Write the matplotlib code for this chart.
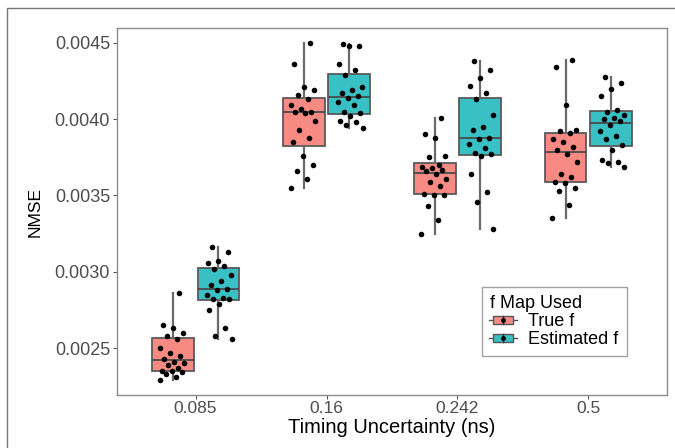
import matplotlib
matplotlib.use("Agg")
import matplotlib.pyplot as plt
from matplotlib.patches import Rectangle
from matplotlib.lines import Line2D
from matplotlib.legend_handler import HandlerBase
import numpy as np

plt.rcParams['font.family'] = ['Liberation Sans', 'DejaVu Sans']

categories = ["0.085", "0.16", "0.242", "0.5"]
series_names = ["True f", "Estimated f"]
fill_colors = ["#F78B83", "#38C0C5"]

# NMSE values per run
true_085 = [0.00229, 0.00231, 0.00233, 0.00234, 0.00235, 0.00235, 0.00237, 0.00239, 0.00240, 0.00241,
            0.00243, 0.00245, 0.00247, 0.00250, 0.00256, 0.00258, 0.00260, 0.00263, 0.00265, 0.00286]
est_085 = [0.00256, 0.00258, 0.00263, 0.00275, 0.00279, 0.00282, 0.00282, 0.00283, 0.00285, 0.00288,
           0.00289, 0.00291, 0.00294, 0.00298, 0.00302, 0.00304, 0.00306, 0.00307, 0.00313, 0.00316]
true_016 = [0.00355, 0.00361, 0.00366, 0.00370, 0.00376, 0.00385, 0.00388, 0.00393, 0.00399, 0.00404,
            0.00405, 0.00405, 0.00407, 0.00409, 0.00413, 0.00416, 0.00419, 0.00421, 0.00436, 0.00450]
est_016 = [0.00394, 0.00396, 0.00398, 0.00399, 0.00402, 0.00404, 0.00405, 0.00409, 0.00411, 0.00414,
           0.00415, 0.00417, 0.00419, 0.00421, 0.00429, 0.00432, 0.00436, 0.00448, 0.00448, 0.00449]
true_0242 = [0.00325, 0.00334, 0.00343, 0.00350, 0.00350, 0.00351, 0.00356, 0.00359, 0.00361, 0.00364,
             0.00366, 0.00367, 0.00368, 0.00369, 0.00370, 0.00375, 0.00376, 0.00388, 0.00390, 0.00401]
est_0242 = [0.00328, 0.00346, 0.00352, 0.00364, 0.00376, 0.00377, 0.00378, 0.00381, 0.00384, 0.00387,
            0.00388, 0.00393, 0.00395, 0.00403, 0.00413, 0.00417, 0.00422, 0.00427, 0.00432, 0.00438]
true_05 = [0.00335, 0.00344, 0.00353, 0.00355, 0.00358, 0.00359, 0.00362, 0.00364, 0.00372, 0.00377,
           0.00380, 0.00382, 0.00385, 0.00387, 0.00391, 0.00392, 0.00393, 0.00409, 0.00434, 0.00439]
est_05 = [0.00369, 0.00371, 0.00372, 0.00373, 0.00380, 0.00383, 0.00387, 0.00389, 0.00392, 0.00396,
          0.00399, 0.00400, 0.00401, 0.00403, 0.00405, 0.00406, 0.00415, 0.00420, 0.00424, 0.00428]

true_runs = [true_085, true_016, true_0242, true_05]
est_runs = [est_085, est_016, est_0242, est_05]
yticks = [0.0025, 0.0030, 0.0035, 0.0040, 0.0045]


class BoxKey(HandlerBase):
    def __init__(self, color):
        super().__init__()
        self.color = color

    def create_artists(self, legend, orig, x0, y0, w, h, fontsize, trans):
        cy = y0 + h / 2
        r = Rectangle((x0 + 2, y0 + h * 0.2), w - 4, h * 0.6, facecolor=self.color,
                      edgecolor="#555555", lw=1, transform=trans)
        med = Line2D([x0 + w / 2] * 2, [y0 + h * 0.2, y0 + h * 0.8], color="#333333", lw=1, transform=trans)
        wh = Line2D([x0 - 1, x0 + w + 1], [cy, cy], color="#555555", lw=1, transform=trans)
        dot = Line2D([x0 + w / 2], [cy], marker="o", ms=2.5, color="black", transform=trans)
        return [wh, r, med, dot]


fig = plt.figure(figsize=(6.75, 4.48), dpi=100)
ax = fig.add_axes([117 / 675, 1 - 395 / 448, 550 / 675, 367 / 448])

pos = np.arange(len(categories))
offset = 0.175
bw = 0.32
jit = ((np.arange(20) * 0.618034) % 1 - 0.5) * 0.2

for k, (runs, col) in enumerate([(true_runs, fill_colors[0]), (est_runs, fill_colors[1])]):
    p = pos + (offset if k else -offset)
    ax.boxplot(runs, positions=p, widths=bw, patch_artist=True, showfliers=False,
               boxprops=dict(facecolor=col, edgecolor="#5a5a5a", lw=1.3),
               medianprops=dict(color="#4a4a4a", lw=1.3),
               whiskerprops=dict(color="#6a6a6a", lw=1.6),
               capprops=dict(lw=0), manage_ticks=False)
    for i, vals in enumerate(runs):
        xs = p[i] + jit[:len(vals)] * (1 if k == 0 else -1)
        ax.scatter(xs, vals, s=16, color="black", zorder=5, linewidths=0)

ax.set_xlim(-0.6, len(categories) - 0.4)
ax.set_ylim(0.002192, 0.004598)
ax.set_xticks(pos)
ax.set_xticklabels(categories)
ax.set_yticks(yticks)
ax.set_yticklabels(["%.4f" % v for v in yticks])
ax.tick_params(colors="#555555", labelsize=13, length=3, width=0.8, pad=2)
ax.tick_params(axis="x", labelsize=12.5, pad=1.5)
for lab in ax.get_xticklabels() + ax.get_yticklabels():
    lab.set_color("#4d4d4d")
for s in ax.spines.values():
    s.set_color("#8c8c8c")
    s.set_linewidth(1)

ax.set_xlabel("Timing Uncertainty (ns)", fontsize=14.5)
ax.xaxis.set_label_coords(0.5, -0.064)
ax.set_ylabel("NMSE", fontsize=12.5)
ax.yaxis.set_label_coords(-0.135, 0.5)

handles = [Rectangle((0, 0), 1, 1), Rectangle((0, 0), 1, 1)]
leg = ax.legend(handles, series_names, title="f Map Used", loc="upper left",
                bbox_to_anchor=(0.664, 0.294), frameon=True, fancybox=False,
                fontsize=13, title_fontsize=13, handlelength=1.4, handletextpad=0.7,
                labelspacing=0.05, borderpad=0.45, borderaxespad=0,
                handler_map={handles[0]: BoxKey(fill_colors[0]), handles[1]: BoxKey(fill_colors[1])})
leg._legend_box.align = "left"
leg.get_frame().set_edgecolor("#8c8c8c")
leg.get_frame().set_linewidth(1)

# outer frame of the original figure
fig.add_artist(Rectangle((7 / 675, -0.1), 2, 1 - 8 / 448 + 0.1, transform=fig.transFigure,
                         fill=False, edgecolor="#777777", lw=1))

fig.savefig("out.png", dpi=100)
